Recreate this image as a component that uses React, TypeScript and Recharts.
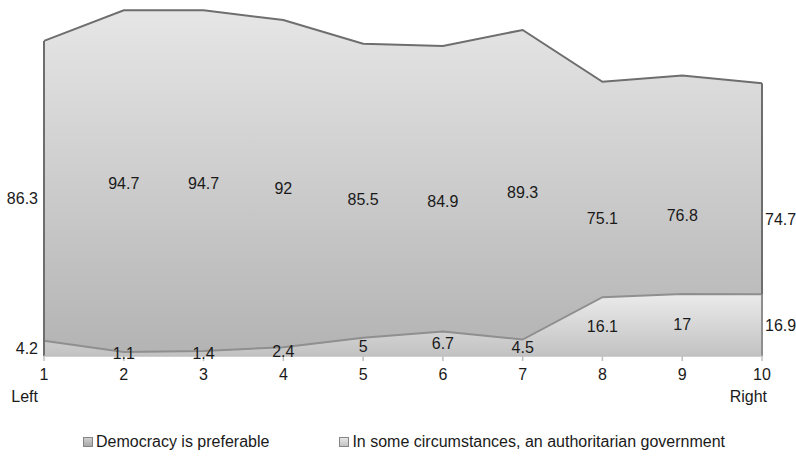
import React from "react";
import {
  AreaChart,
  Area,
  XAxis,
  YAxis,
  LabelList,
  ReferenceLine,
} from "recharts";

// scale position 1 (left) .. 10 (right)
const categories = ["1", "2", "3", "4", "5", "6", "7", "8", "9", "10"];
const democracy = [86.3, 94.7, 94.7, 92, 85.5, 84.9, 89.3, 75.1, 76.8, 74.7];
const authoritarian = [4.2, 1.1, 1.4, 2.4, 5, 6.7, 4.5, 16.1, 17, 16.9];
const sideLabels = ["Left", "", "", "", "", "", "", "", "", "Right"];
const seriesNames = [
  "Democracy is preferable",
  "In some circumstances, an authoritarian government",
];

const data = categories.map((c, i) => ({
  cat: c,
  democracy: democracy[i],
  authoritarian: authoritarian[i],
}));

const W = 796;
const H = 457;
const AXIS_H = 60;
const MARGIN = { top: 0, right: 34, bottom: 41, left: 44 };
const BASE_Y = H - MARGIN.bottom - AXIS_H; // y of the x axis line
const FONT = "'Liberation Sans', Arial, Helvetica, sans-serif";
const last = categories.length - 1;

// data labels sit halfway between the value and the axis
const makeLabel = () => (props: any) => {
  const { x, y, value, index } = props;
  if (value == null) return null;
  let anchor: "start" | "middle" | "end" = "middle";
  let lx = x;
  if (index === 0) {
    anchor = "end";
    lx = x - 6;
  } else if (index === last) {
    anchor = "start";
    lx = x + 3;
  }
  return (
    <text
      x={lx}
      y={(y + BASE_Y) / 2}
      textAnchor={anchor}
      dominantBaseline="central"
      fill="#1a1a1a"
      fontSize={16}
      fontFamily={FONT}
    >
      {value}
    </text>
  );
};

const Tick = (props: any) => {
  const { x, y, payload, index } = props;
  const side = sideLabels[index];
  return (
    <g>
      <text
        x={x}
        y={y + 17}
        textAnchor="middle"
        fill="#1a1a1a"
        fontSize={16}
        fontFamily={FONT}
      >
        {payload.value}
      </text>
      {side ? (
        <text
          x={index === 0 ? x - 6 : x + 5}
          y={y + 39}
          textAnchor="end"
          fill="#1a1a1a"
          fontSize={16}
          fontFamily={FONT}
        >
          {side}
        </text>
      ) : null}
    </g>
  );
};

const LegendBox = ({ light }: { light: boolean }) => (
  <span
    style={{
      display: "inline-block",
      width: 8,
      height: 8,
      border: "1px solid #858585",
      background: light
        ? "linear-gradient(#e6e6e6, #c4c4c4)"
        : "linear-gradient(#d0d0d0, #a8a8a8)",
      marginRight: 3,
    }}
  />
);

export default function App() {
  return (
    <div
      style={{
        position: "absolute",
        left: 0,
        top: 0,
        width: W,
        height: H,
        background: "#fff",
      }}
    >
      <AreaChart width={W} height={H} data={data} margin={MARGIN}>
        <defs>
          <linearGradient id="gradDem" x1="0" y1="0" x2="0" y2="1">
            <stop offset="0%" stopColor="#e6e6e6" />
            <stop offset="100%" stopColor="#b3b3b3" />
          </linearGradient>
          <linearGradient id="gradAuth" x1="0" y1="0" x2="0" y2="1">
            <stop offset="0%" stopColor="#ebebeb" />
            <stop offset="100%" stopColor="#c2c2c2" />
          </linearGradient>
        </defs>
        <XAxis
          dataKey="cat"
          height={AXIS_H}
          axisLine={{ stroke: "#bfbfbf", strokeWidth: 1.5 }}
          tickLine={{ stroke: "#bfbfbf", strokeWidth: 1.5 }}
          tickSize={5}
          tick={<Tick />}
          interval={0}
        />
        <YAxis hide domain={[0, 97.5]} />
        <Area
          type="linear"
          dataKey="democracy"
          name={seriesNames[0]}
          stroke="#6e6e6e"
          strokeWidth={2}
          fill="url(#gradDem)"
          fillOpacity={1}
          isAnimationActive={false}
          dot={false}
          activeDot={false}
        >
          <LabelList dataKey="democracy" content={makeLabel()} />
        </Area>
        <ReferenceLine
          segment={[
            { x: categories[0], y: 0 },
            { x: categories[0], y: democracy[0] },
          ]}
          stroke="#6e6e6e"
          strokeWidth={2}
        />
        <ReferenceLine
          segment={[
            { x: categories[last], y: 0 },
            { x: categories[last], y: democracy[last] },
          ]}
          stroke="#6e6e6e"
          strokeWidth={2}
        />
        <Area
          type="linear"
          dataKey="authoritarian"
          name={seriesNames[1]}
          stroke="#8f8f8f"
          strokeWidth={2}
          fill="url(#gradAuth)"
          fillOpacity={1}
          isAnimationActive={false}
          dot={false}
          activeDot={false}
        >
          <LabelList dataKey="authoritarian" content={makeLabel()} />
        </Area>
        <ReferenceLine
          segment={[
            { x: categories[last], y: 0 },
            { x: categories[last], y: authoritarian[last] },
          ]}
          stroke="#9a9a9a"
          strokeWidth={1.5}
        />
      </AreaChart>
      <div
        style={{
          position: "absolute",
          left: 83,
          top: 433,
          display: "flex",
          alignItems: "center",
          gap: 70,
          fontFamily: FONT,
          fontSize: 16,
          color: "#1a1a1a",
          whiteSpace: "nowrap",
        }}
      >
        {seriesNames.map((n, i) => (
          <span key={n} style={{ display: "flex", alignItems: "center" }}>
            <LegendBox light={i === 1} />
            {n}
          </span>
        ))}
      </div>
    </div>
  );
}
